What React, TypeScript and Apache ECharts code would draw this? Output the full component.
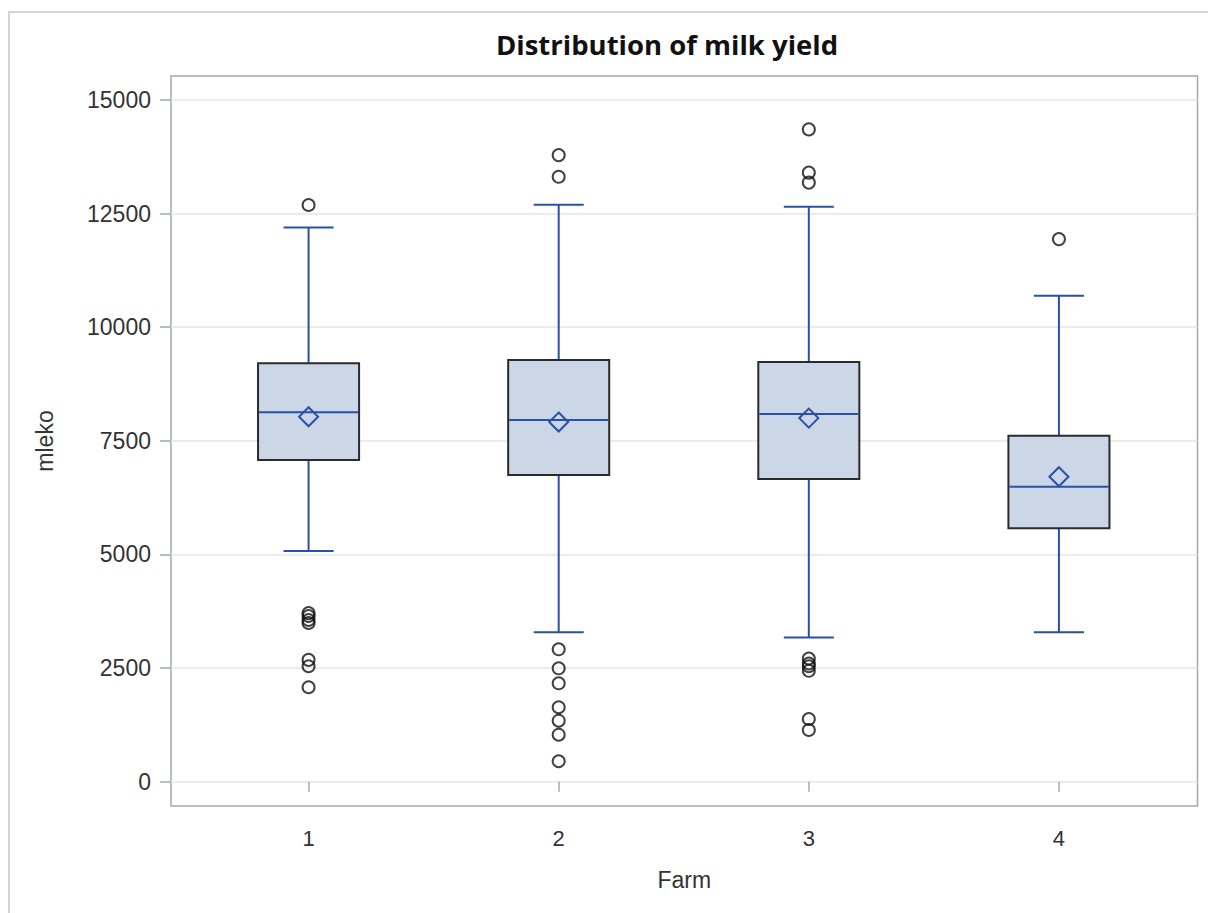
import React, { useEffect, useRef } from "react";
import * as echarts from "echarts";

const farms = [1, 2, 3, 4];
const whiskerLow = [5075, 3290, 3170, 3290];
const q1 = [7077, 6747, 6660, 5575];
const median = [8127, 7957, 8090, 6490];
const q3 = [9205, 9277, 9233, 7612];
const whiskerHigh = [12197, 12694, 12650, 10692];
const mean = [8030, 7913, 8000, 6710];
const outliers1 = [12690, 3710, 3645, 3557, 3491, 2680, 2540, 2077];
const outliers2 = [13787, 13310, 2913, 2495, 2165, 1637, 1342, 1034, 449];
const outliers3 = [14353, 13402, 13182, 2710, 2600, 2540, 2440, 1379, 1137];
const outliers4 = [11939];
const yTicks = [0, 2500, 5000, 7500, 10000, 12500, 15000];

const BLUE = "#2A50A8";

export default function App() {
  const ref = useRef<HTMLDivElement>(null);
  useEffect(() => {
    if (!ref.current) return;
    const chart = echarts.init(ref.current, undefined, { renderer: "svg" });
    const boxData = farms.map((f, i) => [f, whiskerLow[i], q1[i], median[i], q3[i], whiskerHigh[i], mean[i]]);
    const outlierData: number[][] = [];
    [outliers1, outliers2, outliers3, outliers4].forEach((arr, i) => {
      arr.forEach((v) => outlierData.push([farms[i], v]));
    });
    chart.setOption({
      animation: false,
      backgroundColor: "#fff",
      title: {
        text: "Distribution of milk yield",
        left: 662,
        top: 25,
        textAlign: "center",
        textStyle: { fontFamily: "Open Sans", fontWeight: "bold", fontSize: 27.5, color: "#111" },
      },
      graphic: [
        {
          type: "rect",
          shape: { x: 9, y: 12, width: 1400, height: 1200 },
          style: { fill: "none", stroke: "#D3D3D3", lineWidth: 2 },
          silent: true,
        },
      ],
      grid: {
        left: 171,
        top: 76,
        right: 10.5,
        bottom: 107,
        show: true,
        borderColor: "#A4A8AD",
        borderWidth: 1.5,
        backgroundColor: "transparent",
      },
      xAxis: {
        type: "value",
        min: 0.45,
        max: 4.554,
        name: "Farm",
        nameLocation: "middle",
        nameGap: 62,
        nameTextStyle: { fontFamily: "Liberation Sans", fontSize: 23, color: "#333" },
        axisLine: { show: false },
        axisTick: { show: true, customValues: farms, length: 10, lineStyle: { color: "#A4A8AD", width: 1.5 } },
        axisLabel: {
          customValues: farms,
          fontFamily: "Liberation Sans",
          fontSize: 22,
          color: "#333",
          margin: 21,
        },
        splitLine: { show: false },
      },
      yAxis: {
        type: "value",
        min: -535,
        max: 15528,
        name: "mleko",
        nameLocation: "middle",
        nameGap: 115,
        nameTextStyle: { fontFamily: "Liberation Sans", fontSize: 23, color: "#333" },
        axisLine: { show: false },
        axisTick: { show: true, customValues: yTicks, length: 11, lineStyle: { color: "#A4A8AD", width: 1.5 } },
        axisLabel: {
          customValues: yTicks,
          formatter: (v: number) => String(v),
          fontFamily: "Liberation Sans",
          fontSize: 23,
          color: "#333",
          margin: 20,
        },
        splitLine: { show: true, lineStyle: { color: "#E6E6E6", width: 1.5 } },
      },
      series: [
        {
          type: "custom",
          data: boxData,
          encode: { x: 0, y: [1, 2, 3, 4, 5, 6] },
          renderItem: (params: any, api: any) => {
            const x = api.value(0);
            const lo = api.coord([x, api.value(1)]);
            const b1 = api.coord([x, api.value(2)]);
            const md = api.coord([x, api.value(3)]);
            const b3 = api.coord([x, api.value(4)]);
            const hi = api.coord([x, api.value(5)]);
            const mn = api.coord([x, api.value(6)]);
            const bw = api.size([0.404, 0])[0];
            const cw = api.size([0.2, 0])[0];
            const cx = lo[0];
            const ls = { stroke: BLUE, lineWidth: 2 };
            const d = 9.5;
            return {
              type: "group",
              children: [
                { type: "line", shape: { x1: cx, y1: hi[1], x2: cx, y2: b3[1] }, style: ls },
                { type: "line", shape: { x1: cx, y1: b1[1], x2: cx, y2: lo[1] }, style: ls },
                { type: "line", shape: { x1: cx - cw / 2, y1: hi[1], x2: cx + cw / 2, y2: hi[1] }, style: ls },
                { type: "line", shape: { x1: cx - cw / 2, y1: lo[1], x2: cx + cw / 2, y2: lo[1] }, style: ls },
                {
                  type: "rect",
                  shape: { x: cx - bw / 2, y: b3[1], width: bw, height: b1[1] - b3[1] },
                  style: { fill: "#CBD6E6", stroke: "#2B2B2B", lineWidth: 2 },
                },
                { type: "line", shape: { x1: cx - bw / 2 + 1, y1: md[1], x2: cx + bw / 2 - 1, y2: md[1] }, style: ls },
                {
                  type: "polygon",
                  shape: {
                    points: [
                      [cx, mn[1] - d],
                      [cx + d, mn[1]],
                      [cx, mn[1] + d],
                      [cx - d, mn[1]],
                    ],
                  },
                  style: { fill: "none", stroke: BLUE, lineWidth: 2 },
                },
              ],
            };
          },
          z: 2,
        },
        {
          type: "scatter",
          data: outlierData,
          symbol: "circle",
          symbolSize: 12,
          itemStyle: { color: "rgba(0,0,0,0)", borderColor: "#111", borderWidth: 2 },
          z: 3,
        },
      ],
    });
    return () => chart.dispose();
  }, []);
  return <div ref={ref} style={{ width: 1208, height: 913, position: "absolute", left: 0, top: 0 }} />;
}
